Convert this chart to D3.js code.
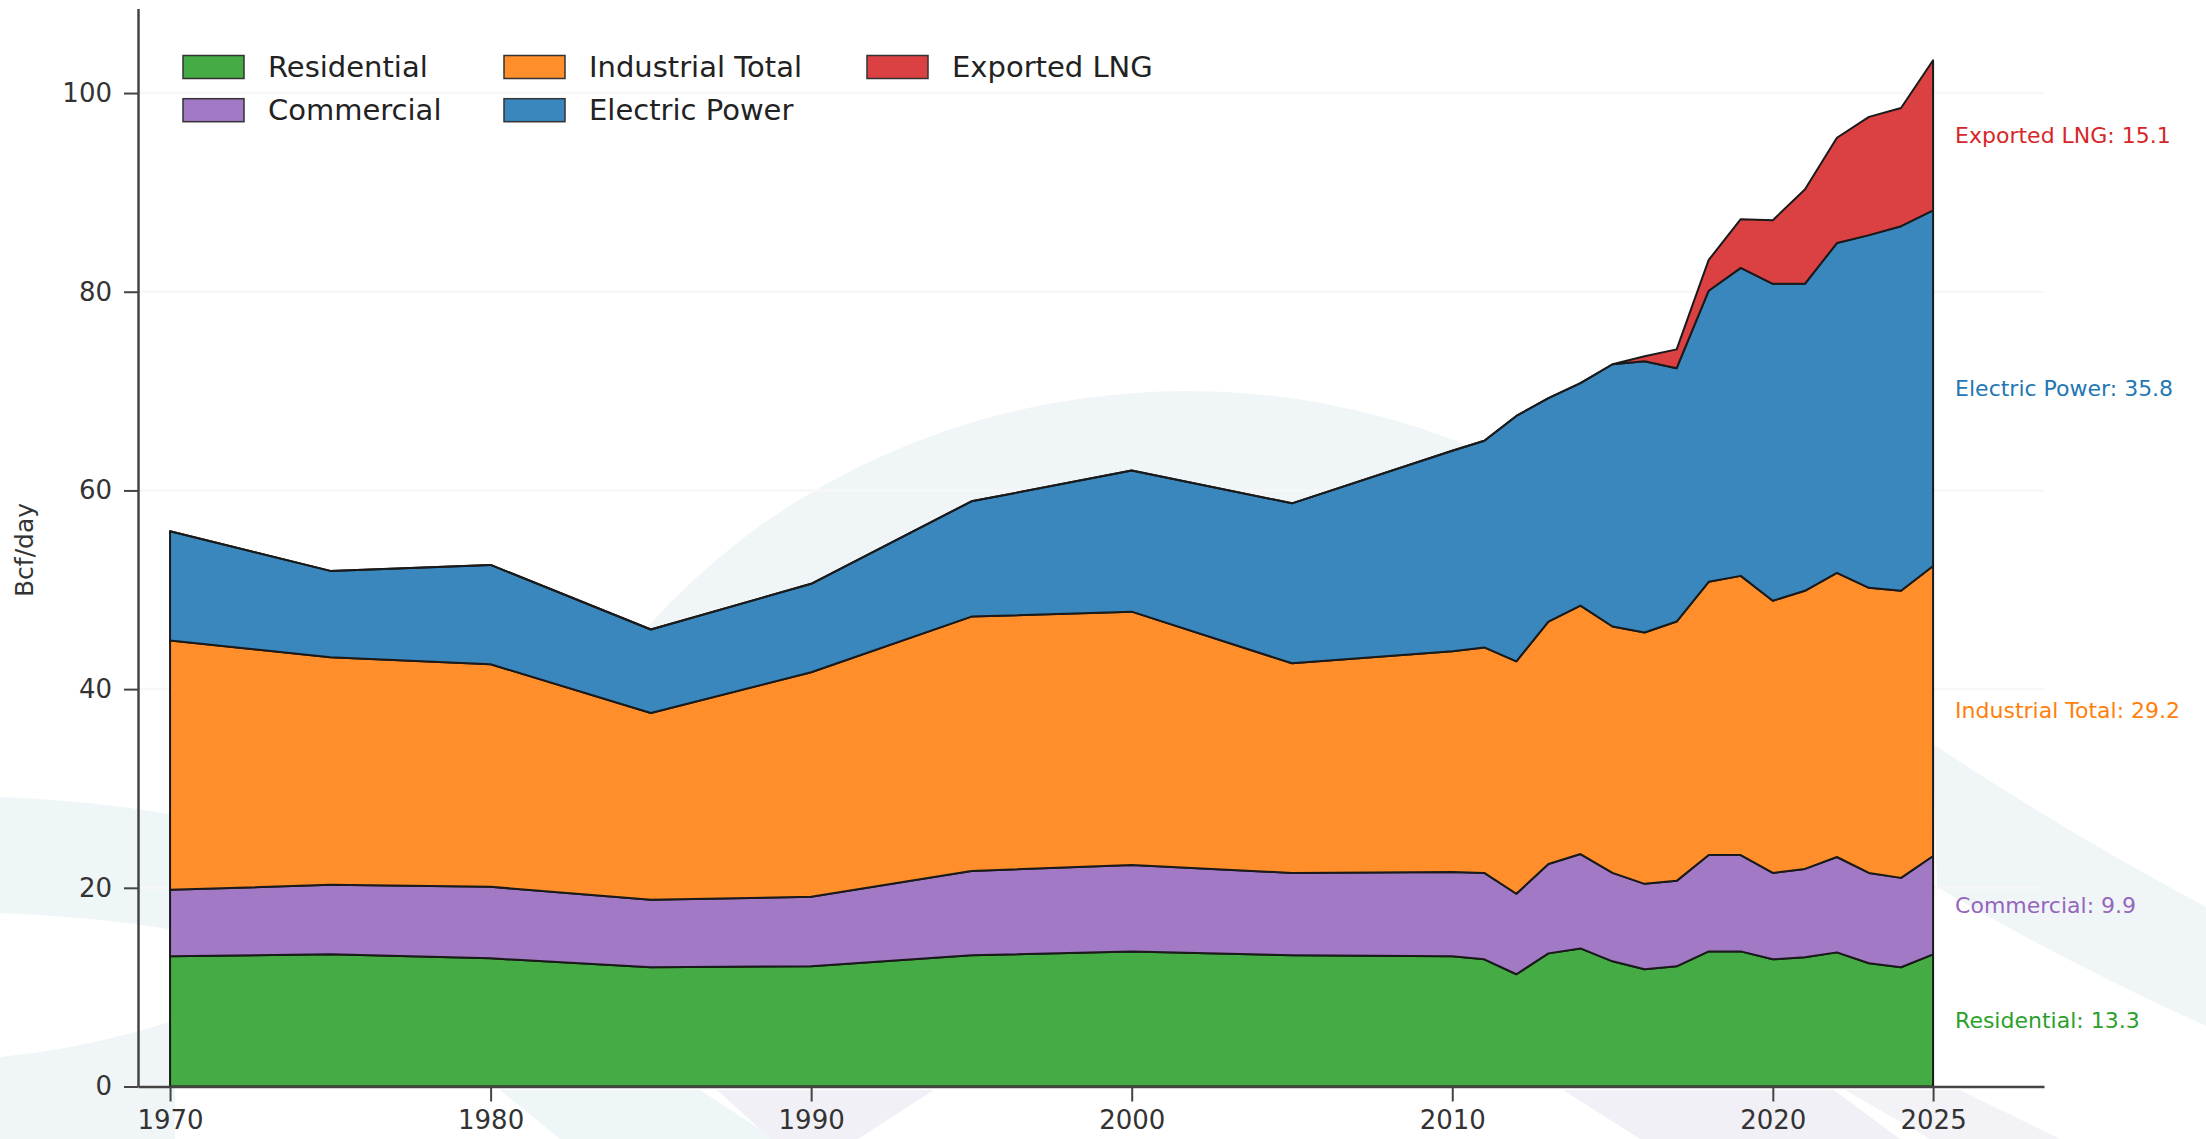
<!DOCTYPE html>
<html>
<head>
<meta charset="utf-8">
<script src="https://cdn.jsdelivr.net/npm/d3@7"></script>
<style>
body { margin: 0; background: #fff; }
svg { display: block; font-family: "DejaVu Sans", sans-serif; }
</style>
</head>
<body>
<script>
// US natural gas consumption by sector, Bcf/day
var years = [1970, 1975, 1980, 1985, 1990, 1995, 2000, 2005, 2010, 2011, 2012, 2013,
             2014, 2015, 2016, 2017, 2018, 2019, 2020, 2021, 2022, 2023, 2024, 2025];
var residential = [13.1, 13.3, 12.9, 12.0, 12.1, 13.2, 13.6, 13.2, 13.1, 12.8, 11.3, 13.4,
                   13.9, 12.6, 11.8, 12.1, 13.6, 13.6, 12.8, 13.0, 13.5, 12.4, 12.0, 13.3];
var commercial = [6.7, 7.0, 7.2, 6.8, 7.0, 8.5, 8.7, 8.3, 8.5, 8.7, 8.1, 9.0,
                  9.5, 8.9, 8.6, 8.6, 9.7, 9.7, 8.7, 8.9, 9.6, 9.1, 9.0, 9.9];
var industrial = [25.1, 22.9, 22.4, 18.8, 22.6, 25.6, 25.5, 21.1, 22.2, 22.7, 23.4, 24.4,
                  25.0, 24.8, 25.3, 26.1, 27.5, 28.1, 27.4, 28.0, 28.6, 28.7, 28.9, 29.2];
var electric = [11.0, 8.7, 10.0, 8.4, 8.9, 11.6, 14.2, 16.1, 20.2, 20.8, 24.7, 22.5,
                22.4, 26.4, 27.3, 25.5, 29.3, 31.0, 31.9, 30.9, 33.2, 35.5, 36.7, 35.8];
var lng = [0, 0, 0, 0, 0, 0, 0, 0, 0, 0, 0, 0,
           0, 0, 0.5, 1.9, 3.1, 4.9, 6.4, 9.5, 10.6, 11.9, 11.9, 15.1];

var seriesNames = ["Residential", "Commercial", "Industrial Total", "Electric Power", "Exported LNG"];
var seriesValues = [residential, commercial, industrial, electric, lng];
var fillColors = ["#45ab45", "#a179c5", "#ff8e2b", "#3a87bd", "#db4142"];
var textColors = ["#2ca02c", "#9467bd", "#ff7f0e", "#1f77b4", "#d62728"];
var yTicks = [0, 20, 40, 60, 80, 100];
var xTicks = [1970, 1980, 1990, 2000, 2010, 2020, 2025];

var w = 2206, h = 1139;

var svg = d3.select("body").append("svg")
    .attr("width", w)
    .attr("height", h);

var x = d3.scaleLinear().domain([1969, 2028.46]).range([138, 2044]);
var y = d3.scaleLinear().domain([0, 108.5]).range([1086.5, 8.6]);

// faint watermark shapes in the background
var defs = svg.append("defs");
defs.append("clipPath").attr("id", "plotclip")
    .append("rect").attr("x", 0).attr("y", 0).attr("width", w).attr("height", 1086);
defs.append("clipPath").attr("id", "textclip")
    .append("rect").attr("x", 0).attr("y", 0).attr("width", 2178).attr("height", h);

var bg = svg.append("g");
bg.append("ellipse")
    .attr("cx", 1187).attr("cy", 1041).attr("rx", 700).attr("ry", 650)
    .attr("fill", "#f0f5f8")
    .attr("clip-path", "url(#plotclip)");
bg.append("path")
    .attr("d", "M0,797 Q90,800 175,815 L175,930 Q90,916 0,913 Z")
    .attr("fill", "#eff6f7");
bg.append("path")
    .attr("d", "M0,1057 Q90,1048 175,1020 L175,1139 L0,1139 Z")
    .attr("fill", "#f0f5f8");
bg.append("path")
    .attr("d", "M1933,744 Q2070,835 2206,907 L2206,1026 Q2070,965 1937,887 Z")
    .attr("fill", "#f0f5f8");
bg.append("path")
    .attr("d", "M500,1090 L700,1090 L775,1139 L560,1139 Z")
    .attr("fill", "#eff6f7");
bg.append("path")
    .attr("d", "M717,1090 L934,1090 L858,1139 L771,1139 Z")
    .attr("fill", "#f1f0f6");
bg.append("path")
    .attr("d", "M1563,1090 L1834,1090 L1900,1139 L1640,1139 Z")
    .attr("fill", "#f1f0f6");
bg.append("path")
    .attr("d", "M1845,1090 L1960,1090 L2060,1139 L1930,1139 Z")
    .attr("fill", "#f3f3f7");

// grid
svg.append("g").selectAll("line")
    .data(yTicks)
    .enter()
    .append("line")
    .attr("x1", x(1969)).attr("x2", x(2028.46))
    .attr("y1", function(d) { return y(d); })
    .attr("y2", function(d) { return y(d); })
    .attr("stroke", "#f7f7f7")
    .attr("stroke-width", 2.5);

// stacked areas
var table = years.map(function(yr, i) {
    var row = { year: yr };
    seriesNames.forEach(function(name, k) { row[name] = seriesValues[k][i]; });
    return row;
});
var stacked = d3.stack().keys(seriesNames)(table);

var area = d3.area()
    .x(function(d) { return x(d.data.year); })
    .y0(function(d) { return y(d[0]); })
    .y1(function(d) { return y(d[1]); });

svg.append("g").selectAll("path")
    .data(stacked)
    .enter()
    .append("path")
    .attr("d", area)
    .attr("fill", function(d, i) { return fillColors[i]; })
    .attr("stroke", "#1a1a1a")
    .attr("stroke-width", 2)
    .attr("stroke-linejoin", "round");

// axes
var yAxis = svg.append("g")
    .attr("transform", "translate(" + x(1969) + ",0)")
    .call(d3.axisLeft(y).tickValues(yTicks).tickSize(14).tickSizeOuter(0).tickPadding(12));
var xAxis = svg.append("g")
    .attr("transform", "translate(0," + y(0) + ")")
    .call(d3.axisBottom(x).tickValues(xTicks).tickFormat(d3.format("d"))
        .tickSize(15).tickSizeOuter(0).tickPadding(9));

[yAxis, xAxis].forEach(function(ax) {
    ax.select(".domain").attr("stroke", "#444").attr("stroke-width", 2.5);
    ax.selectAll(".tick line").attr("stroke", "#444").attr("stroke-width", 2);
    ax.selectAll(".tick text")
        .attr("font-family", "DejaVu Sans")
        .attr("font-size", 26)
        .attr("fill", "#333");
});

svg.append("text")
    .attr("transform", "translate(33,550) rotate(-90)")
    .attr("text-anchor", "middle")
    .attr("font-size", 25)
    .attr("fill", "#333")
    .text("Bcf/day");

// end labels at 2025
var endLabels = svg.append("g").attr("clip-path", "url(#textclip)");
stacked.forEach(function(layer, i) {
    var last = layer[layer.length - 1];
    endLabels.append("text")
        .attr("x", x(2025) + 22)
        .attr("y", y((last[0] + last[1]) / 2))
        .attr("dominant-baseline", "central")
        .attr("font-size", 22)
        .attr("fill", textColors[i])
        .text(seriesNames[i] + ": " + (last[1] - last[0]).toFixed(1));
});

// legend, 3 columns filled top to bottom
var legendCols = [183, 504, 867];
var legendRows = [55.5, 98.7];
var legend = svg.append("g");
seriesNames.forEach(function(name, i) {
    var cx = legendCols[Math.floor(i / 2)];
    var cy = legendRows[i % 2];
    legend.append("rect")
        .attr("x", cx).attr("y", cy)
        .attr("width", 61).attr("height", 23)
        .attr("fill", fillColors[i])
        .attr("stroke", "#333")
        .attr("stroke-width", 1.5);
    legend.append("text")
        .attr("x", cx + 85)
        .attr("y", cy + 11.5)
        .attr("dominant-baseline", "central")
        .attr("font-size", 29)
        .attr("fill", "#222")
        .text(name);
});
</script>
</body>
</html>
